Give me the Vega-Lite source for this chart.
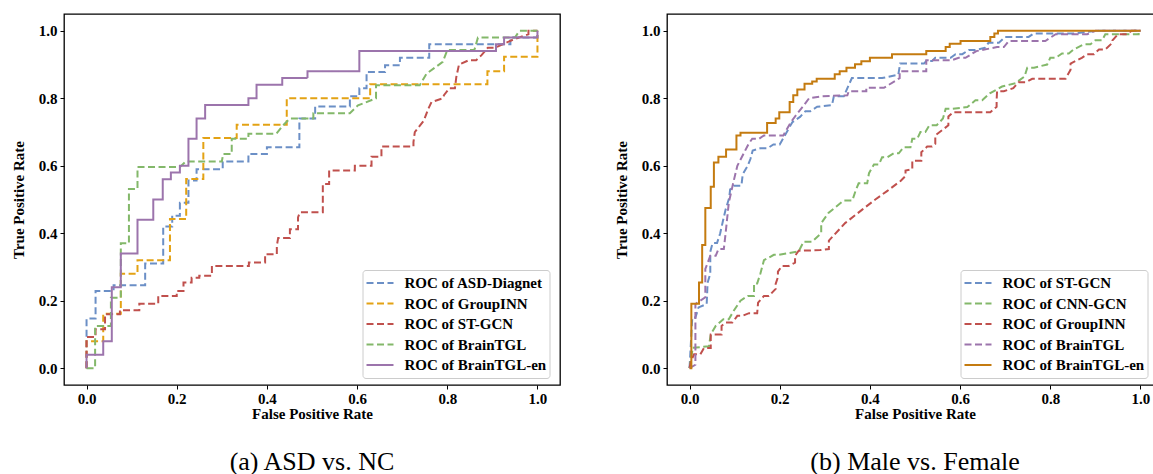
{
  "$schema": "https://vega.github.io/schema/vega-lite/v6.json",
  "background": "white",
  "padding": {"left": 10, "top": 13, "right": 0, "bottom": 0},
  "datasets": {
    "a": [
      {"m":"ASD-Diagnet","x":0,"y":0},{"m":"ASD-Diagnet","x":0,"y":0.147},{"m":"ASD-Diagnet","x":0.02,"y":0.147},{"m":"ASD-Diagnet","x":0.02,"y":0.229},{"m":"ASD-Diagnet","x":0.06,"y":0.229},{"m":"ASD-Diagnet","x":0.06,"y":0.246},{"m":"ASD-Diagnet","x":0.13,"y":0.246},{"m":"ASD-Diagnet","x":0.13,"y":0.31},{"m":"ASD-Diagnet","x":0.17,"y":0.31},{"m":"ASD-Diagnet","x":0.17,"y":0.42},{"m":"ASD-Diagnet","x":0.19,"y":0.42},{"m":"ASD-Diagnet","x":0.19,"y":0.452},{"m":"ASD-Diagnet","x":0.207,"y":0.452},{"m":"ASD-Diagnet","x":0.207,"y":0.49},{"m":"ASD-Diagnet","x":0.226,"y":0.49},{"m":"ASD-Diagnet","x":0.226,"y":0.556},{"m":"ASD-Diagnet","x":0.244,"y":0.556},{"m":"ASD-Diagnet","x":0.244,"y":0.59},{"m":"ASD-Diagnet","x":0.302,"y":0.59},{"m":"ASD-Diagnet","x":0.302,"y":0.613},{"m":"ASD-Diagnet","x":0.359,"y":0.613},{"m":"ASD-Diagnet","x":0.359,"y":0.635},{"m":"ASD-Diagnet","x":0.4,"y":0.635},{"m":"ASD-Diagnet","x":0.4,"y":0.655},{"m":"ASD-Diagnet","x":0.472,"y":0.655},{"m":"ASD-Diagnet","x":0.472,"y":0.74},{"m":"ASD-Diagnet","x":0.507,"y":0.74},{"m":"ASD-Diagnet","x":0.507,"y":0.776},{"m":"ASD-Diagnet","x":0.584,"y":0.776},{"m":"ASD-Diagnet","x":0.584,"y":0.806},{"m":"ASD-Diagnet","x":0.605,"y":0.806},{"m":"ASD-Diagnet","x":0.605,"y":0.83},{"m":"ASD-Diagnet","x":0.621,"y":0.83},{"m":"ASD-Diagnet","x":0.621,"y":0.878},{"m":"ASD-Diagnet","x":0.662,"y":0.878},{"m":"ASD-Diagnet","x":0.662,"y":0.898},{"m":"ASD-Diagnet","x":0.695,"y":0.898},{"m":"ASD-Diagnet","x":0.695,"y":0.92},{"m":"ASD-Diagnet","x":0.76,"y":0.92},{"m":"ASD-Diagnet","x":0.76,"y":0.96},{"m":"ASD-Diagnet","x":0.94,"y":0.96},{"m":"ASD-Diagnet","x":0.94,"y":0.98},{"m":"ASD-Diagnet","x":1,"y":0.98},{"m":"ASD-Diagnet","x":1,"y":1},
      {"m":"GroupINN","x":0,"y":0},{"m":"GroupINN","x":0,"y":0.08},{"m":"GroupINN","x":0.037,"y":0.08},{"m":"GroupINN","x":0.037,"y":0.161},{"m":"GroupINN","x":0.076,"y":0.161},{"m":"GroupINN","x":0.076,"y":0.28},{"m":"GroupINN","x":0.113,"y":0.28},{"m":"GroupINN","x":0.113,"y":0.32},{"m":"GroupINN","x":0.185,"y":0.32},{"m":"GroupINN","x":0.185,"y":0.442},{"m":"GroupINN","x":0.221,"y":0.442},{"m":"GroupINN","x":0.221,"y":0.561},{"m":"GroupINN","x":0.259,"y":0.561},{"m":"GroupINN","x":0.259,"y":0.682},{"m":"GroupINN","x":0.333,"y":0.682},{"m":"GroupINN","x":0.333,"y":0.722},{"m":"GroupINN","x":0.444,"y":0.722},{"m":"GroupINN","x":0.444,"y":0.8},{"m":"GroupINN","x":0.629,"y":0.8},{"m":"GroupINN","x":0.629,"y":0.842},{"m":"GroupINN","x":0.889,"y":0.842},{"m":"GroupINN","x":0.889,"y":0.88},{"m":"GroupINN","x":0.926,"y":0.88},{"m":"GroupINN","x":0.926,"y":0.923},{"m":"GroupINN","x":1,"y":0.923},{"m":"GroupINN","x":1,"y":1},
      {"m":"ST-GCN","x":0,"y":0},{"m":"ST-GCN","x":0,"y":0.092},{"m":"ST-GCN","x":0.02,"y":0.092},{"m":"ST-GCN","x":0.02,"y":0.115},{"m":"ST-GCN","x":0.041,"y":0.115},{"m":"ST-GCN","x":0.041,"y":0.16},{"m":"ST-GCN","x":0.074,"y":0.16},{"m":"ST-GCN","x":0.074,"y":0.172},{"m":"ST-GCN","x":0.117,"y":0.172},{"m":"ST-GCN","x":0.117,"y":0.191},{"m":"ST-GCN","x":0.159,"y":0.191},{"m":"ST-GCN","x":0.159,"y":0.214},{"m":"ST-GCN","x":0.2,"y":0.214},{"m":"ST-GCN","x":0.2,"y":0.229},{"m":"ST-GCN","x":0.215,"y":0.229},{"m":"ST-GCN","x":0.215,"y":0.254},{"m":"ST-GCN","x":0.233,"y":0.254},{"m":"ST-GCN","x":0.233,"y":0.268},{"m":"ST-GCN","x":0.25,"y":0.268},{"m":"ST-GCN","x":0.25,"y":0.274},{"m":"ST-GCN","x":0.278,"y":0.274},{"m":"ST-GCN","x":0.278,"y":0.303},{"m":"ST-GCN","x":0.36,"y":0.303},{"m":"ST-GCN","x":0.36,"y":0.313},{"m":"ST-GCN","x":0.396,"y":0.313},{"m":"ST-GCN","x":0.396,"y":0.338},{"m":"ST-GCN","x":0.422,"y":0.338},{"m":"ST-GCN","x":0.422,"y":0.363},{"m":"ST-GCN","x":0.425,"y":0.386},{"m":"ST-GCN","x":0.451,"y":0.386},{"m":"ST-GCN","x":0.451,"y":0.412},{"m":"ST-GCN","x":0.469,"y":0.412},{"m":"ST-GCN","x":0.469,"y":0.447},{"m":"ST-GCN","x":0.473,"y":0.462},{"m":"ST-GCN","x":0.524,"y":0.462},{"m":"ST-GCN","x":0.524,"y":0.546},{"m":"ST-GCN","x":0.538,"y":0.546},{"m":"ST-GCN","x":0.538,"y":0.586},{"m":"ST-GCN","x":0.595,"y":0.586},{"m":"ST-GCN","x":0.595,"y":0.6},{"m":"ST-GCN","x":0.632,"y":0.6},{"m":"ST-GCN","x":0.632,"y":0.627},{"m":"ST-GCN","x":0.654,"y":0.627},{"m":"ST-GCN","x":0.654,"y":0.657},{"m":"ST-GCN","x":0.725,"y":0.657},{"m":"ST-GCN","x":0.725,"y":0.67},{"m":"ST-GCN","x":0.728,"y":0.7},{"m":"ST-GCN","x":0.748,"y":0.734},{"m":"ST-GCN","x":0.758,"y":0.769},{"m":"ST-GCN","x":0.765,"y":0.789},{"m":"ST-GCN","x":0.79,"y":0.8},{"m":"ST-GCN","x":0.793,"y":0.81},{"m":"ST-GCN","x":0.805,"y":0.83},{"m":"ST-GCN","x":0.817,"y":0.83},{"m":"ST-GCN","x":0.82,"y":0.863},{"m":"ST-GCN","x":0.826,"y":0.9},{"m":"ST-GCN","x":0.848,"y":0.913},{"m":"ST-GCN","x":0.864,"y":0.913},{"m":"ST-GCN","x":0.876,"y":0.928},{"m":"ST-GCN","x":0.89,"y":0.95},{"m":"ST-GCN","x":0.906,"y":0.95},{"m":"ST-GCN","x":0.946,"y":0.974},{"m":"ST-GCN","x":0.98,"y":0.99},{"m":"ST-GCN","x":0.98,"y":1},{"m":"ST-GCN","x":1,"y":1},
      {"m":"BrainTGL","x":0,"y":0},{"m":"BrainTGL","x":0.019,"y":0},{"m":"BrainTGL","x":0.019,"y":0.125},{"m":"BrainTGL","x":0.054,"y":0.125},{"m":"BrainTGL","x":0.054,"y":0.209},{"m":"BrainTGL","x":0.076,"y":0.209},{"m":"BrainTGL","x":0.076,"y":0.37},{"m":"BrainTGL","x":0.094,"y":0.37},{"m":"BrainTGL","x":0.094,"y":0.531},{"m":"BrainTGL","x":0.113,"y":0.531},{"m":"BrainTGL","x":0.113,"y":0.596},{"m":"BrainTGL","x":0.207,"y":0.596},{"m":"BrainTGL","x":0.22,"y":0.613},{"m":"BrainTGL","x":0.3,"y":0.613},{"m":"BrainTGL","x":0.303,"y":0.635},{"m":"BrainTGL","x":0.322,"y":0.635},{"m":"BrainTGL","x":0.322,"y":0.68},{"m":"BrainTGL","x":0.359,"y":0.68},{"m":"BrainTGL","x":0.359,"y":0.695},{"m":"BrainTGL","x":0.421,"y":0.695},{"m":"BrainTGL","x":0.436,"y":0.72},{"m":"BrainTGL","x":0.451,"y":0.74},{"m":"BrainTGL","x":0.503,"y":0.74},{"m":"BrainTGL","x":0.503,"y":0.756},{"m":"BrainTGL","x":0.584,"y":0.756},{"m":"BrainTGL","x":0.602,"y":0.779},{"m":"BrainTGL","x":0.642,"y":0.8},{"m":"BrainTGL","x":0.642,"y":0.839},{"m":"BrainTGL","x":0.739,"y":0.839},{"m":"BrainTGL","x":0.754,"y":0.873},{"m":"BrainTGL","x":0.79,"y":0.908},{"m":"BrainTGL","x":0.8,"y":0.943},{"m":"BrainTGL","x":0.86,"y":0.943},{"m":"BrainTGL","x":0.868,"y":0.98},{"m":"BrainTGL","x":0.95,"y":0.98},{"m":"BrainTGL","x":0.96,"y":1},{"m":"BrainTGL","x":1,"y":1},
      {"m":"BrainTGL-en","x":0,"y":0},{"m":"BrainTGL-en","x":0,"y":0.04},{"m":"BrainTGL-en","x":0.037,"y":0.04},{"m":"BrainTGL-en","x":0.037,"y":0.08},{"m":"BrainTGL-en","x":0.056,"y":0.08},{"m":"BrainTGL-en","x":0.056,"y":0.24},{"m":"BrainTGL-en","x":0.076,"y":0.24},{"m":"BrainTGL-en","x":0.076,"y":0.34},{"m":"BrainTGL-en","x":0.113,"y":0.34},{"m":"BrainTGL-en","x":0.113,"y":0.44},{"m":"BrainTGL-en","x":0.148,"y":0.44},{"m":"BrainTGL-en","x":0.148,"y":0.5},{"m":"BrainTGL-en","x":0.169,"y":0.5},{"m":"BrainTGL-en","x":0.169,"y":0.56},{"m":"BrainTGL-en","x":0.187,"y":0.56},{"m":"BrainTGL-en","x":0.187,"y":0.58},{"m":"BrainTGL-en","x":0.207,"y":0.58},{"m":"BrainTGL-en","x":0.207,"y":0.6},{"m":"BrainTGL-en","x":0.226,"y":0.6},{"m":"BrainTGL-en","x":0.226,"y":0.68},{"m":"BrainTGL-en","x":0.244,"y":0.68},{"m":"BrainTGL-en","x":0.244,"y":0.74},{"m":"BrainTGL-en","x":0.263,"y":0.74},{"m":"BrainTGL-en","x":0.263,"y":0.78},{"m":"BrainTGL-en","x":0.359,"y":0.78},{"m":"BrainTGL-en","x":0.359,"y":0.8},{"m":"BrainTGL-en","x":0.377,"y":0.8},{"m":"BrainTGL-en","x":0.377,"y":0.84},{"m":"BrainTGL-en","x":0.434,"y":0.84},{"m":"BrainTGL-en","x":0.434,"y":0.86},{"m":"BrainTGL-en","x":0.49,"y":0.86},{"m":"BrainTGL-en","x":0.49,"y":0.88},{"m":"BrainTGL-en","x":0.605,"y":0.88},{"m":"BrainTGL-en","x":0.605,"y":0.94},{"m":"BrainTGL-en","x":0.908,"y":0.94},{"m":"BrainTGL-en","x":0.908,"y":0.96},{"m":"BrainTGL-en","x":0.926,"y":0.96},{"m":"BrainTGL-en","x":0.926,"y":0.98},{"m":"BrainTGL-en","x":1,"y":0.98},{"m":"BrainTGL-en","x":1,"y":1}
    ],
    "b": [
      {"m":"ST-GCN","x":0,"y":0},{"m":"ST-GCN","x":0.004,"y":0.1},{"m":"ST-GCN","x":0.006,"y":0.15},{"m":"ST-GCN","x":0.013,"y":0.15},{"m":"ST-GCN","x":0.02,"y":0.18},{"m":"ST-GCN","x":0.038,"y":0.19},{"m":"ST-GCN","x":0.04,"y":0.253},{"m":"ST-GCN","x":0.046,"y":0.28},{"m":"ST-GCN","x":0.046,"y":0.345},{"m":"ST-GCN","x":0.051,"y":0.371},{"m":"ST-GCN","x":0.061,"y":0.371},{"m":"ST-GCN","x":0.068,"y":0.4},{"m":"ST-GCN","x":0.075,"y":0.442},{"m":"ST-GCN","x":0.08,"y":0.47},{"m":"ST-GCN","x":0.088,"y":0.505},{"m":"ST-GCN","x":0.09,"y":0.53},{"m":"ST-GCN","x":0.098,"y":0.541},{"m":"ST-GCN","x":0.115,"y":0.541},{"m":"ST-GCN","x":0.118,"y":0.575},{"m":"ST-GCN","x":0.129,"y":0.6},{"m":"ST-GCN","x":0.135,"y":0.62},{"m":"ST-GCN","x":0.14,"y":0.645},{"m":"ST-GCN","x":0.157,"y":0.652},{"m":"ST-GCN","x":0.173,"y":0.652},{"m":"ST-GCN","x":0.186,"y":0.663},{"m":"ST-GCN","x":0.2,"y":0.663},{"m":"ST-GCN","x":0.224,"y":0.72},{"m":"ST-GCN","x":0.228,"y":0.729},{"m":"ST-GCN","x":0.245,"y":0.745},{"m":"ST-GCN","x":0.257,"y":0.762},{"m":"ST-GCN","x":0.268,"y":0.762},{"m":"ST-GCN","x":0.283,"y":0.775},{"m":"ST-GCN","x":0.316,"y":0.78},{"m":"ST-GCN","x":0.32,"y":0.806},{"m":"ST-GCN","x":0.342,"y":0.806},{"m":"ST-GCN","x":0.36,"y":0.86},{"m":"ST-GCN","x":0.427,"y":0.86},{"m":"ST-GCN","x":0.463,"y":0.87},{"m":"ST-GCN","x":0.467,"y":0.903},{"m":"ST-GCN","x":0.52,"y":0.903},{"m":"ST-GCN","x":0.525,"y":0.911},{"m":"ST-GCN","x":0.538,"y":0.911},{"m":"ST-GCN","x":0.545,"y":0.92},{"m":"ST-GCN","x":0.579,"y":0.92},{"m":"ST-GCN","x":0.59,"y":0.931},{"m":"ST-GCN","x":0.605,"y":0.931},{"m":"ST-GCN","x":0.619,"y":0.943},{"m":"ST-GCN","x":0.634,"y":0.943},{"m":"ST-GCN","x":0.656,"y":0.95},{"m":"ST-GCN","x":0.663,"y":0.965},{"m":"ST-GCN","x":0.686,"y":0.965},{"m":"ST-GCN","x":0.7,"y":0.982},{"m":"ST-GCN","x":0.752,"y":0.982},{"m":"ST-GCN","x":0.763,"y":0.992},{"m":"ST-GCN","x":0.85,"y":0.992},{"m":"ST-GCN","x":0.9,"y":1},{"m":"ST-GCN","x":1,"y":1},
      {"m":"CNN-GCN","x":0,"y":0},{"m":"CNN-GCN","x":0.006,"y":0.05},{"m":"CNN-GCN","x":0.006,"y":0.06},{"m":"CNN-GCN","x":0.043,"y":0.065},{"m":"CNN-GCN","x":0.047,"y":0.1},{"m":"CNN-GCN","x":0.058,"y":0.125},{"m":"CNN-GCN","x":0.075,"y":0.145},{"m":"CNN-GCN","x":0.087,"y":0.145},{"m":"CNN-GCN","x":0.098,"y":0.17},{"m":"CNN-GCN","x":0.113,"y":0.2},{"m":"CNN-GCN","x":0.129,"y":0.214},{"m":"CNN-GCN","x":0.143,"y":0.214},{"m":"CNN-GCN","x":0.143,"y":0.251},{"m":"CNN-GCN","x":0.15,"y":0.251},{"m":"CNN-GCN","x":0.157,"y":0.28},{"m":"CNN-GCN","x":0.165,"y":0.32},{"m":"CNN-GCN","x":0.187,"y":0.336},{"m":"CNN-GCN","x":0.198,"y":0.336},{"m":"CNN-GCN","x":0.242,"y":0.346},{"m":"CNN-GCN","x":0.253,"y":0.375},{"m":"CNN-GCN","x":0.272,"y":0.375},{"m":"CNN-GCN","x":0.292,"y":0.4},{"m":"CNN-GCN","x":0.292,"y":0.43},{"m":"CNN-GCN","x":0.308,"y":0.46},{"m":"CNN-GCN","x":0.342,"y":0.497},{"m":"CNN-GCN","x":0.361,"y":0.497},{"m":"CNN-GCN","x":0.368,"y":0.525},{"m":"CNN-GCN","x":0.375,"y":0.548},{"m":"CNN-GCN","x":0.394,"y":0.548},{"m":"CNN-GCN","x":0.398,"y":0.578},{"m":"CNN-GCN","x":0.409,"y":0.604},{"m":"CNN-GCN","x":0.42,"y":0.604},{"m":"CNN-GCN","x":0.427,"y":0.625},{"m":"CNN-GCN","x":0.438,"y":0.625},{"m":"CNN-GCN","x":0.453,"y":0.637},{"m":"CNN-GCN","x":0.464,"y":0.637},{"m":"CNN-GCN","x":0.475,"y":0.655},{"m":"CNN-GCN","x":0.49,"y":0.655},{"m":"CNN-GCN","x":0.494,"y":0.68},{"m":"CNN-GCN","x":0.505,"y":0.68},{"m":"CNN-GCN","x":0.512,"y":0.7},{"m":"CNN-GCN","x":0.523,"y":0.7},{"m":"CNN-GCN","x":0.532,"y":0.72},{"m":"CNN-GCN","x":0.548,"y":0.72},{"m":"CNN-GCN","x":0.562,"y":0.74},{"m":"CNN-GCN","x":0.568,"y":0.769},{"m":"CNN-GCN","x":0.582,"y":0.769},{"m":"CNN-GCN","x":0.616,"y":0.774},{"m":"CNN-GCN","x":0.634,"y":0.794},{"m":"CNN-GCN","x":0.649,"y":0.794},{"m":"CNN-GCN","x":0.666,"y":0.815},{"m":"CNN-GCN","x":0.693,"y":0.835},{"m":"CNN-GCN","x":0.723,"y":0.845},{"m":"CNN-GCN","x":0.743,"y":0.865},{"m":"CNN-GCN","x":0.749,"y":0.891},{"m":"CNN-GCN","x":0.764,"y":0.891},{"m":"CNN-GCN","x":0.793,"y":0.9},{"m":"CNN-GCN","x":0.8,"y":0.92},{"m":"CNN-GCN","x":0.812,"y":0.92},{"m":"CNN-GCN","x":0.826,"y":0.933},{"m":"CNN-GCN","x":0.841,"y":0.933},{"m":"CNN-GCN","x":0.852,"y":0.945},{"m":"CNN-GCN","x":0.874,"y":0.96},{"m":"CNN-GCN","x":0.889,"y":0.96},{"m":"CNN-GCN","x":0.9,"y":0.972},{"m":"CNN-GCN","x":0.915,"y":0.972},{"m":"CNN-GCN","x":0.922,"y":0.99},{"m":"CNN-GCN","x":0.996,"y":0.99},{"m":"CNN-GCN","x":0.996,"y":1},{"m":"CNN-GCN","x":1,"y":1},
      {"m":"GroupINN","x":0,"y":0},{"m":"GroupINN","x":0.003,"y":0.02},{"m":"GroupINN","x":0.01,"y":0.041},{"m":"GroupINN","x":0.024,"y":0.041},{"m":"GroupINN","x":0.032,"y":0.06},{"m":"GroupINN","x":0.047,"y":0.06},{"m":"GroupINN","x":0.047,"y":0.1},{"m":"GroupINN","x":0.071,"y":0.1},{"m":"GroupINN","x":0.071,"y":0.125},{"m":"GroupINN","x":0.08,"y":0.135},{"m":"GroupINN","x":0.095,"y":0.135},{"m":"GroupINN","x":0.106,"y":0.155},{"m":"GroupINN","x":0.117,"y":0.155},{"m":"GroupINN","x":0.132,"y":0.163},{"m":"GroupINN","x":0.15,"y":0.163},{"m":"GroupINN","x":0.152,"y":0.194},{"m":"GroupINN","x":0.165,"y":0.214},{"m":"GroupINN","x":0.176,"y":0.214},{"m":"GroupINN","x":0.191,"y":0.235},{"m":"GroupINN","x":0.191,"y":0.25},{"m":"GroupINN","x":0.196,"y":0.27},{"m":"GroupINN","x":0.196,"y":0.286},{"m":"GroupINN","x":0.205,"y":0.303},{"m":"GroupINN","x":0.22,"y":0.303},{"m":"GroupINN","x":0.234,"y":0.313},{"m":"GroupINN","x":0.234,"y":0.333},{"m":"GroupINN","x":0.242,"y":0.348},{"m":"GroupINN","x":0.29,"y":0.35},{"m":"GroupINN","x":0.309,"y":0.353},{"m":"GroupINN","x":0.309,"y":0.378},{"m":"GroupINN","x":0.345,"y":0.43},{"m":"GroupINN","x":0.383,"y":0.47},{"m":"GroupINN","x":0.412,"y":0.5},{"m":"GroupINN","x":0.438,"y":0.525},{"m":"GroupINN","x":0.468,"y":0.555},{"m":"GroupINN","x":0.479,"y":0.57},{"m":"GroupINN","x":0.479,"y":0.586},{"m":"GroupINN","x":0.494,"y":0.59},{"m":"GroupINN","x":0.494,"y":0.615},{"m":"GroupINN","x":0.514,"y":0.615},{"m":"GroupINN","x":0.514,"y":0.64},{"m":"GroupINN","x":0.527,"y":0.657},{"m":"GroupINN","x":0.538,"y":0.657},{"m":"GroupINN","x":0.545,"y":0.665},{"m":"GroupINN","x":0.545,"y":0.69},{"m":"GroupINN","x":0.574,"y":0.72},{"m":"GroupINN","x":0.574,"y":0.746},{"m":"GroupINN","x":0.585,"y":0.759},{"m":"GroupINN","x":0.667,"y":0.759},{"m":"GroupINN","x":0.681,"y":0.775},{"m":"GroupINN","x":0.681,"y":0.794},{"m":"GroupINN","x":0.682,"y":0.821},{"m":"GroupINN","x":0.697,"y":0.821},{"m":"GroupINN","x":0.718,"y":0.83},{"m":"GroupINN","x":0.73,"y":0.848},{"m":"GroupINN","x":0.746,"y":0.848},{"m":"GroupINN","x":0.76,"y":0.858},{"m":"GroupINN","x":0.834,"y":0.858},{"m":"GroupINN","x":0.845,"y":0.885},{"m":"GroupINN","x":0.845,"y":0.903},{"m":"GroupINN","x":0.87,"y":0.92},{"m":"GroupINN","x":0.882,"y":0.931},{"m":"GroupINN","x":0.897,"y":0.931},{"m":"GroupINN","x":0.908,"y":0.945},{"m":"GroupINN","x":0.922,"y":0.945},{"m":"GroupINN","x":0.938,"y":0.965},{"m":"GroupINN","x":0.938,"y":0.972},{"m":"GroupINN","x":0.95,"y":0.99},{"m":"GroupINN","x":0.97,"y":0.99},{"m":"GroupINN","x":0.98,"y":1},{"m":"GroupINN","x":1,"y":1},
      {"m":"BrainTGL","x":0,"y":0},{"m":"BrainTGL","x":0.013,"y":0.01},{"m":"BrainTGL","x":0.013,"y":0.19},{"m":"BrainTGL","x":0.035,"y":0.21},{"m":"BrainTGL","x":0.035,"y":0.294},{"m":"BrainTGL","x":0.046,"y":0.333},{"m":"BrainTGL","x":0.058,"y":0.333},{"m":"BrainTGL","x":0.064,"y":0.353},{"m":"BrainTGL","x":0.076,"y":0.353},{"m":"BrainTGL","x":0.08,"y":0.4},{"m":"BrainTGL","x":0.087,"y":0.49},{"m":"BrainTGL","x":0.097,"y":0.55},{"m":"BrainTGL","x":0.106,"y":0.6},{"m":"BrainTGL","x":0.131,"y":0.665},{"m":"BrainTGL","x":0.139,"y":0.68},{"m":"BrainTGL","x":0.154,"y":0.68},{"m":"BrainTGL","x":0.165,"y":0.69},{"m":"BrainTGL","x":0.208,"y":0.69},{"m":"BrainTGL","x":0.225,"y":0.73},{"m":"BrainTGL","x":0.239,"y":0.755},{"m":"BrainTGL","x":0.254,"y":0.78},{"m":"BrainTGL","x":0.265,"y":0.8},{"m":"BrainTGL","x":0.294,"y":0.806},{"m":"BrainTGL","x":0.35,"y":0.809},{"m":"BrainTGL","x":0.353,"y":0.821},{"m":"BrainTGL","x":0.392,"y":0.821},{"m":"BrainTGL","x":0.392,"y":0.831},{"m":"BrainTGL","x":0.431,"y":0.831},{"m":"BrainTGL","x":0.466,"y":0.86},{"m":"BrainTGL","x":0.466,"y":0.88},{"m":"BrainTGL","x":0.525,"y":0.88},{"m":"BrainTGL","x":0.525,"y":0.913},{"m":"BrainTGL","x":0.582,"y":0.913},{"m":"BrainTGL","x":0.597,"y":0.92},{"m":"BrainTGL","x":0.612,"y":0.92},{"m":"BrainTGL","x":0.636,"y":0.94},{"m":"BrainTGL","x":0.682,"y":0.952},{"m":"BrainTGL","x":0.697,"y":0.952},{"m":"BrainTGL","x":0.708,"y":0.97},{"m":"BrainTGL","x":0.789,"y":0.97},{"m":"BrainTGL","x":0.812,"y":0.99},{"m":"BrainTGL","x":0.882,"y":0.99},{"m":"BrainTGL","x":0.9,"y":1},{"m":"BrainTGL","x":1,"y":1},
      {"m":"BrainTGL-en","x":0,"y":0},{"m":"BrainTGL-en","x":0.004,"y":0},{"m":"BrainTGL-en","x":0.004,"y":0.191},{"m":"BrainTGL-en","x":0.021,"y":0.191},{"m":"BrainTGL-en","x":0.021,"y":0.254},{"m":"BrainTGL-en","x":0.028,"y":0.254},{"m":"BrainTGL-en","x":0.028,"y":0.365},{"m":"BrainTGL-en","x":0.035,"y":0.365},{"m":"BrainTGL-en","x":0.035,"y":0.475},{"m":"BrainTGL-en","x":0.047,"y":0.475},{"m":"BrainTGL-en","x":0.047,"y":0.538},{"m":"BrainTGL-en","x":0.054,"y":0.538},{"m":"BrainTGL-en","x":0.054,"y":0.61},{"m":"BrainTGL-en","x":0.064,"y":0.61},{"m":"BrainTGL-en","x":0.064,"y":0.627},{"m":"BrainTGL-en","x":0.081,"y":0.627},{"m":"BrainTGL-en","x":0.081,"y":0.648},{"m":"BrainTGL-en","x":0.104,"y":0.648},{"m":"BrainTGL-en","x":0.104,"y":0.69},{"m":"BrainTGL-en","x":0.113,"y":0.69},{"m":"BrainTGL-en","x":0.113,"y":0.698},{"m":"BrainTGL-en","x":0.172,"y":0.698},{"m":"BrainTGL-en","x":0.172,"y":0.727},{"m":"BrainTGL-en","x":0.191,"y":0.727},{"m":"BrainTGL-en","x":0.191,"y":0.74},{"m":"BrainTGL-en","x":0.199,"y":0.74},{"m":"BrainTGL-en","x":0.199,"y":0.759},{"m":"BrainTGL-en","x":0.222,"y":0.759},{"m":"BrainTGL-en","x":0.222,"y":0.789},{"m":"BrainTGL-en","x":0.23,"y":0.789},{"m":"BrainTGL-en","x":0.23,"y":0.809},{"m":"BrainTGL-en","x":0.239,"y":0.809},{"m":"BrainTGL-en","x":0.239,"y":0.826},{"m":"BrainTGL-en","x":0.255,"y":0.826},{"m":"BrainTGL-en","x":0.255,"y":0.843},{"m":"BrainTGL-en","x":0.272,"y":0.843},{"m":"BrainTGL-en","x":0.272,"y":0.85},{"m":"BrainTGL-en","x":0.282,"y":0.85},{"m":"BrainTGL-en","x":0.282,"y":0.858},{"m":"BrainTGL-en","x":0.322,"y":0.858},{"m":"BrainTGL-en","x":0.322,"y":0.871},{"m":"BrainTGL-en","x":0.333,"y":0.871},{"m":"BrainTGL-en","x":0.333,"y":0.88},{"m":"BrainTGL-en","x":0.348,"y":0.88},{"m":"BrainTGL-en","x":0.348,"y":0.891},{"m":"BrainTGL-en","x":0.367,"y":0.891},{"m":"BrainTGL-en","x":0.367,"y":0.901},{"m":"BrainTGL-en","x":0.381,"y":0.901},{"m":"BrainTGL-en","x":0.381,"y":0.91},{"m":"BrainTGL-en","x":0.4,"y":0.91},{"m":"BrainTGL-en","x":0.4,"y":0.92},{"m":"BrainTGL-en","x":0.449,"y":0.92},{"m":"BrainTGL-en","x":0.449,"y":0.931},{"m":"BrainTGL-en","x":0.525,"y":0.931},{"m":"BrainTGL-en","x":0.525,"y":0.94},{"m":"BrainTGL-en","x":0.568,"y":0.94},{"m":"BrainTGL-en","x":0.568,"y":0.952},{"m":"BrainTGL-en","x":0.577,"y":0.952},{"m":"BrainTGL-en","x":0.577,"y":0.962},{"m":"BrainTGL-en","x":0.601,"y":0.962},{"m":"BrainTGL-en","x":0.601,"y":0.97},{"m":"BrainTGL-en","x":0.667,"y":0.97},{"m":"BrainTGL-en","x":0.667,"y":0.982},{"m":"BrainTGL-en","x":0.676,"y":0.982},{"m":"BrainTGL-en","x":0.676,"y":0.992},{"m":"BrainTGL-en","x":0.684,"y":0.992},{"m":"BrainTGL-en","x":0.684,"y":1},{"m":"BrainTGL-en","x":1,"y":1}
    ]
  },
  "hconcat": [
    {
      "data": {"name": "a"},
      "width": 496,
      "height": 371,
      "title": {"text": "(a) ASD vs. NC"},
      "mark": {"type": "line", "strokeWidth": 2, "clip": true},
      "encoding": {
        "x": {"field": "x", "type": "quantitative", "scale": {"domain": [-0.05, 1.05], "nice": false, "zero": false}, "axis": {"values": [0, 0.2, 0.4, 0.6, 0.8, 1], "format": ".1f", "title": "False Positive Rate"}},
        "y": {"field": "y", "type": "quantitative", "scale": {"domain": [-0.05, 1.05], "nice": false, "zero": false}, "axis": {"values": [0, 0.2, 0.4, 0.6, 0.8, 1], "format": ".1f", "title": "True Positive Rate"}},
        "color": {"field": "m", "type": "nominal", "scale": {"domain": ["ASD-Diagnet", "GroupINN", "ST-GCN", "BrainTGL", "BrainTGL-en"], "range": ["#6b8fc6", "#e3a214", "#c0504d", "#83b86a", "#9c74ac"]}, "legend": {"title": null, "labelExpr": "'ROC of ' + datum.label", "orient": "none", "legendX": 298.5, "legendY": 256}},
        "strokeDash": {"field": "m", "type": "nominal", "scale": {"domain": ["ASD-Diagnet", "GroupINN", "ST-GCN", "BrainTGL", "BrainTGL-en"], "range": [[7, 3.5], [7, 3.5], [7, 3.5], [7, 3.5], [1, 0]]}, "legend": {"title": null, "labelExpr": "'ROC of ' + datum.label", "orient": "none", "legendX": 298.5, "legendY": 256}},
        "order": {"value": null}
      }
    },
    {
      "data": {"name": "b"},
      "width": 496,
      "height": 371,
      "title": {"text": "(b) Male vs. Female"},
      "mark": {"type": "line", "strokeWidth": 2, "clip": true},
      "encoding": {
        "x": {"field": "x", "type": "quantitative", "scale": {"domain": [-0.05, 1.05], "nice": false, "zero": false}, "axis": {"values": [0, 0.2, 0.4, 0.6, 0.8, 1], "format": ".1f", "title": "False Positive Rate"}},
        "y": {"field": "y", "type": "quantitative", "scale": {"domain": [-0.05, 1.05], "nice": false, "zero": false}, "axis": {"values": [0, 0.2, 0.4, 0.6, 0.8, 1], "format": ".1f", "title": "True Positive Rate"}},
        "color": {"field": "m", "type": "nominal", "scale": {"domain": ["ST-GCN", "CNN-GCN", "GroupINN", "BrainTGL", "BrainTGL-en"], "range": ["#6b8fc6", "#83b86a", "#c0504d", "#9c74ac", "#c47b10"]}, "legend": {"title": null, "labelExpr": "'ROC of ' + datum.label", "orient": "none", "legendX": 293.5, "legendY": 256}},
        "strokeDash": {"field": "m", "type": "nominal", "scale": {"domain": ["ST-GCN", "CNN-GCN", "GroupINN", "BrainTGL", "BrainTGL-en"], "range": [[7, 3.5], [7, 3.5], [7, 3.5], [7, 3.5], [1, 0]]}, "legend": {"title": null, "labelExpr": "'ROC of ' + datum.label", "orient": "none", "legendX": 293.5, "legendY": 256}},
        "order": {"value": null}
      }
    }
  ],
  "spacing": 107,
  "bounds": "flush",
  "resolve": {"scale": {"color": "independent", "strokeDash": "independent"}, "legend": {"color": "independent", "strokeDash": "independent"}},
  "config": {
    "view": {"stroke": "#000000", "strokeWidth": 1.3},
    "axis": {"domain": false, "grid": false, "tickColor": "#000000", "tickSize": 4, "tickWidth": 1, "labelFont": "Liberation Serif", "labelFontWeight": "bold", "labelFontSize": 15, "labelColor": "#000000", "labelPadding": 3, "titleFont": "Liberation Serif", "titleFontWeight": "bold", "titleFontSize": 15, "titleColor": "#000000"},
    "axisX": {"titlePadding": 0, "labelPadding": 2},
    "axisY": {"titlePadding": 12},
    "legend": {"labelFont": "Liberation Serif", "labelFontWeight": "bold", "labelFontSize": 15, "labelColor": "#000000", "symbolType": "stroke", "symbolSize": 729, "symbolStrokeWidth": 2, "clipHeight": 20, "rowPadding": 0.5, "padding": 3, "labelOffset": 10, "strokeColor": "#cccccc", "fillColor": "#ffffff", "cornerRadius": 3, "labelLimit": 300},
    "title": {"orient": "bottom", "font": "Liberation Serif", "fontSize": 26, "fontWeight": "normal", "color": "#000000", "offset": 28, "anchor": "middle"}
  }
}
